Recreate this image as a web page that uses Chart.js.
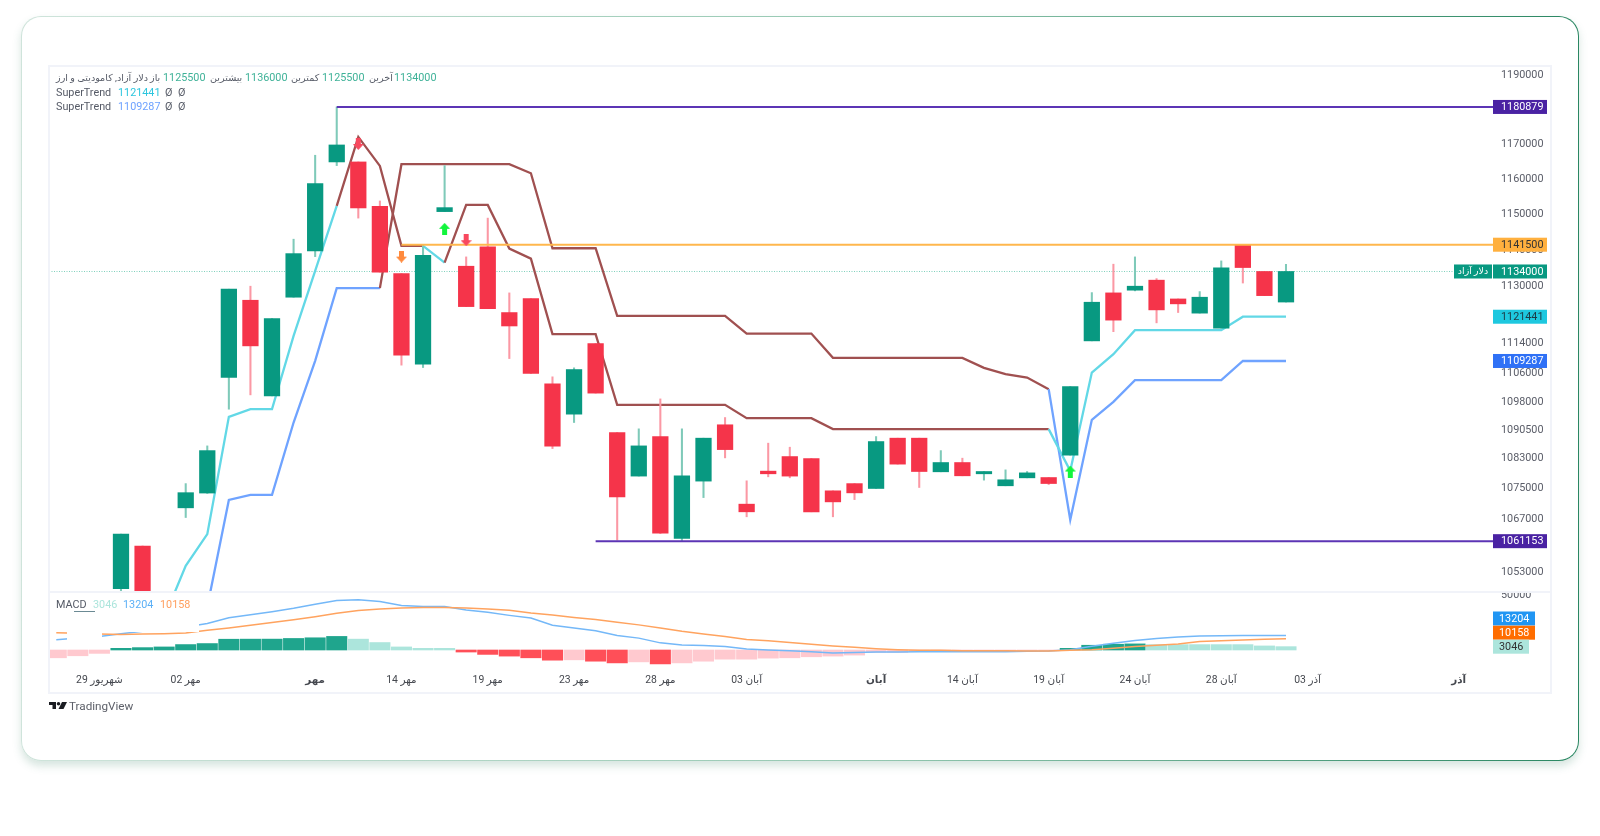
<!DOCTYPE html>
<html lang="fa">
<head>
<meta charset="utf-8">
<title>دلار آزاد</title>
<script src="https://cdn.jsdelivr.net/npm/chart.js@4/dist/chart.umd.min.js"></script>
<style>
  html, body { margin: 0; background: #fff; width: 1600px; height: 836px; overflow: hidden; }
  body { font-family: Roboto, "DejaVu Sans", sans-serif; font-size: 10.8px; color: #555a66; }
  .card {
    position: absolute; left: 21px; top: 16px; width: 1556px; height: 743px;
    border: 1.5px solid transparent; border-radius: 20px;
    background: linear-gradient(#fff, #fff) padding-box,
      linear-gradient(90deg, #cfe4db, #93c7b0 55%, #2a8762) border-box;
    box-shadow: 0 5px 9px rgba(70, 135, 110, 0.22);
  }
  .frame { position: absolute; left: 48px; top: 65px; width: 1500px; height: 625px; border: 2px solid #f1f3f9; pointer-events: none; }
  .divider { position: absolute; left: 49px; top: 591px; width: 1501px; height: 2px; background: #f1f3f9; }
  canvas { position: absolute; left: 49px; }
  #priceChart { top: 67px; }
  #macdChart { top: 593px; }
  .mask { position: absolute; background: #fff; }
  .underline { position: absolute; left: 74px; top: 611px; width: 21px; height: 1px; background: #6b8a94; }
  .row { position: absolute; left: 56px; height: 14px; line-height: 14px; white-space: nowrap; }
  .row span { position: absolute; top: 0; }
  .fa { font-size: 9.6px; }
  .num { color: #3fb298; }
  .brand { position: absolute; left: 49px; top: 699px; height: 14px; display: flex; align-items: center; font-size: 11.7px; color: #5d6069; }
  .brand svg { margin-right: 2px; }
</style>
</head>
<body>
<div class="card"></div>
<canvas id="priceChart" width="1501" height="526"></canvas>
<canvas id="macdChart" width="1501" height="99"></canvas>
<div class="mask" style="left:67px;top:630px;width:35px;height:14px"></div>
<div class="mask" style="left:102px;top:596px;width:97px;height:36px"></div>
<div class="divider"></div>
<div class="frame"></div>

<div class="row" style="top:71px">
  <span class="fa" style="left:0">دلار آزاد, کامودیتی و ارز</span>
  <span class="fa" style="left:94px">باز</span>
  <span class="num" style="left:107px">1125500</span>
  <span class="fa" style="left:154px">بیشترین</span>
  <span class="num" style="left:189px">1136000</span>
  <span class="fa" style="left:235px">کمترین</span>
  <span class="num" style="left:266px">1125500</span>
  <span class="fa" style="left:313px">آخرین</span>
  <span class="num" style="left:338px">1134000</span>
</div>
<div class="row" style="top:86px">
  <span style="left:0">SuperTrend</span>
  <span style="left:62px;color:#2cc6de">1121441</span>
  <span style="left:109px">Ø</span><span style="left:122px">Ø</span>
</div>
<div class="row" style="top:100px">
  <span style="left:0">SuperTrend</span>
  <span style="left:62px;color:#6ea2ff">1109287</span>
  <span style="left:109px">Ø</span><span style="left:122px">Ø</span>
</div>
<div class="row" style="top:598px">
  <span style="left:0">MACD</span>
  <span style="left:37px;color:#ace5dc">3046</span>
  <span style="left:67px;color:#5cb0f6">13204</span>
  <span style="left:104px;color:#ff9f5f">10158</span>
</div>
<div class="underline"></div>
<div class="brand">
  <svg width="18" height="9" viewBox="0 0 36 18"><path fill="#1a1c22" d="M0 0h14v14H7V6H0z"/><circle cx="19" cy="3.5" r="3.5" fill="#1a1c22"/><path fill="#1a1c22" d="M26 0h10l-7 14H19z"/></svg>
  <span>TradingView</span>
</div>

<script>
// candle position on the axis, 0 is the first visible candle
const opens = [1048800, 1059900, 1042000, 1069900, 1073800, 1104780, 1126000, 1099800, 1126840, 1139750, 1165000,
  1165000, 1152360, 1133400, 1108420, 1150840, 1135470, 1140880, 1122590, 1126450, 1103060, 1094860, 1114050, 1089920,
  1078290, 1088840, 1061850, 1076960, 1092000, 1070870, 1079610, 1083490, 1082960, 1074390, 1076300, 1075010, 1088410,
  1088410, 1079430, 1081900, 1078900, 1075720, 1077830, 1077910, 1083860, 1114790, 1128040, 1128790, 1131580, 1126360,
  1122430, 1118300, 1141500, 1134000, 1125500];
const highs = [1063000, 1059900, 1048000, 1076300, 1086340, 1129070, 1129900, 1120940, 1143050, 1166920, 1180879,
  1165000, 1153860, 1133400, 1141360, 1163950, 1138080, 1149000, 1128040, 1126450, 1104970, 1107420, 1114050, 1089920,
  1090910, 1098980, 1090910, 1088410, 1093950, 1077040, 1087070, 1085990, 1082960, 1074390, 1076300, 1088840, 1088410,
  1088410, 1085080, 1083060, 1079510, 1079950, 1079510, 1077910, 1102330, 1128120, 1136040, 1138080, 1132020, 1126360,
  1128400, 1136960, 1141500, 1134000, 1136000];
const lows = [1048300, 1040000, 1040000, 1067350, 1073700, 1096200, 1100070, 1099800, 1126840, 1138160, 1163950,
  1149000, 1133810, 1108150, 1107500, 1150840, 1124240, 1123690, 1109950, 1105870, 1085620, 1092610, 1100540, 1061420,
  1078290, 1063150, 1061153, 1072600, 1083140, 1067540, 1078100, 1077840, 1068850, 1067540, 1072070, 1075010, 1081470,
  1075270, 1079430, 1078370, 1077220, 1075720, 1077830, 1076050, 1083860, 1114790, 1117320, 1128600, 1119750, 1122600,
  1122430, 1118300, 1130780, 1127280, 1125500];
const closes = [1063000, 1041000, 1045000, 1073900, 1085080, 1129070, 1113420, 1120940, 1139000, 1158800, 1169880,
  1151880, 1133810, 1110870, 1138550, 1151970, 1124240, 1123690, 1118890, 1105870, 1086270, 1106950, 1100540, 1072790,
  1086340, 1063260, 1078370, 1088410, 1085350, 1068850, 1078900, 1078290, 1068850, 1071470, 1073850, 1087500, 1081470,
  1079510, 1081900, 1078370, 1079510, 1077310, 1079150, 1076320, 1102330, 1125450, 1120500, 1129900, 1123330, 1125000,
  1126840, 1135010, 1135100, 1127280, 1134000];

const superTrendFast = [null, null, 1041300, 1054740, 1063000, 1094140, 1096210, 1096210, 1116170, 1134170, 1152450,
  1172200, 1163860, 1141160, 1141160, 1136490, 1152730, 1152730, 1140400, 1137600, 1116640, 1116640, 1116640, 1097360,
  1097360, 1097360, 1097360, 1097360, 1097360, 1093790, 1093790, 1093790, 1093790, 1090830, 1090830, 1090830, 1090830,
  1090830, 1090830, 1090830, 1090830, 1090830, 1090830, 1090830, 1079690, 1106140, 1111140, 1117740, 1117740, 1117740,
  1117740, 1117740, 1121441, 1121441, 1121441];
const superTrendSlow = [null, null, null, null, 1044100, 1071990, 1073320, 1073320, 1092610, 1109320, 1129350,
  1129350, 1129350, 1164350, 1164350, 1164350, 1164350, 1164350, 1164350, 1161750, 1140510, 1140510, 1140510, 1121680,
  1121680, 1121680, 1121680, 1121680, 1121680, 1116800, 1116800, 1116800, 1116800, 1110140, 1110140, 1110140, 1110140,
  1110140, 1110140, 1110140, 1107420, 1105710, 1104780, 1101620, 1066750, 1093330, 1098170, 1104070, 1104070, 1104070,
  1104070, 1104070, 1109287, 1109287, 1109287];
const fastDownRanges = [[10, 14], [15, 43]];
const slowDownRanges = [[12, 43]];

const upArrowIdx = [15, 44];
const upArrowPrices = [1145960, 1079510];
const downArrowIdx = [11, 16, 13];
const downArrowPrices = [1170170, 1142760, 1138160];

const levelPrices = [1180879, 1061153, 1141500];
const levelStarts = [10, 22, 13];
const lastPrice = 1134000;

const priceTicks = [1190000, 1170000, 1160000, 1150000, 1140000, 1130000, 1114000, 1106000, 1098000, 1090500, 1083000,
  1075000, 1067000, 1060000, 1053000];
const macdTicks = [50000];

// MACD series start three candles before the first candle
const macdStart = -3;
const macdLine = [9260, 10800, 12340, 14810, 16970, 18520, 20980, 24070, 29320, 32090, 34870, 37960, 41660, 45060,
  45670, 44130, 40430, 39500, 39500, 36410, 34250, 31480, 29010, 22530, 20060, 17590, 13270, 10800, 6480, 4630, 4010,
  3090, 930, 0, -620, -1540, -2780, -2160, -1850, -1850, -1540, -1540, -1540, -1540, -1540, -1230, -930, 310, 3400,
  6170, 8640, 10490, 11730, 12650, 12960, 13120, 13200, 13204];
const signalLine = [15740, 15120, 14500, 14200, 14500, 14810, 15430, 17900, 20060, 22530, 25000, 27470, 30240, 33330,
  35800, 37340, 38270, 38580, 38580, 38270, 37340, 36110, 33640, 31790, 29630, 27770, 25300, 22840, 20060, 16970,
  14500, 12340, 9570, 8330, 6790, 5250, 3700, 2470, 1230, 310, -310, -310, -620, -620, -620, -930, -930, -310, 310,
  1540, 3090, 4320, 5550, 7710, 8500, 9100, 9700, 10158];
const macdHist = [-7100, -5250, -3090, 1540, 2160, 2780, 4940, 5860, 9800, 9880, 9900, 10490, 11110, 12340, 9880, 6790,
  2780, 1540, 1540, -1850, -4010, -5550, -7100, -9260, -8950, -10180, -11730, -10800, -12650, -11730, -10180, -8330,
  -8330, -7400, -7100, -6170, -5550, -4630, -2160, -2160, -1500, -1200, -1000, -800, -600, -400, -300, 1540, 4320,
  5250, 5550, 4900, 4900, 4900, 4900, 4900, 3700, 3046];

const dateTickIdx = [-1, 3, 9, 13, 17, 21, 25, 29, 35, 39, 43, 47, 51, 55, 62];
const dateTickLabels = ["شهریور 29", "مهر 02", "مهر", "مهر 14", "مهر 19", "مهر 23", "مهر 28", "آبان 03", "آبان",
  "آبان 14", "آبان 19", "آبان 24", "آبان 28", "آذر 03", "آذر"];
const monthLabels = ["مهر", "آبان", "آذر"];

const GREEN = "#089981", RED = "#f5344a";
const X_MIN = -3.337, X_MAX = 63.595;
const AXIS_WIDTH = 57;
const FONT = "Roboto, 'DejaVu Sans', sans-serif";
const idx = closes.map((_, i) => i);

function inRanges(i, ranges) {
  return ranges.some(([a, b]) => i >= a && i < b);
}

function trendSegment(upColor, ranges) {
  return { borderColor: (ctx) => (inRanges(ctx.p0.parsed.x, ranges) ? "#a05050" : upColor) };
}

function histColor(v, i) {
  const prev = i > 0 ? macdHist[i - 1] : v;
  if (v >= 0) return v > prev ? "#1fa58d" : "#ace5dc";
  return v < prev ? "#ff4f58" : "#ffc9cf";
}

function arrowIcon(color, down) {
  const c = document.createElement("canvas");
  c.width = 11;
  c.height = 12;
  const g = c.getContext("2d");
  if (down) { g.translate(0, 12); g.scale(1, -1); }
  g.fillStyle = color;
  g.beginPath();
  g.moveTo(5.5, 0);
  g.lineTo(11, 6);
  g.lineTo(8, 6);
  g.lineTo(8, 12);
  g.lineTo(3, 12);
  g.lineTo(3, 6);
  g.lineTo(0, 6);
  g.closePath();
  g.fill();
  return c;
}

function drawTag(g, x, y, w, text, bg, fg) {
  g.fillStyle = bg;
  g.fillRect(x, y - 7, w, 14);
  g.fillStyle = fg;
  g.font = "10.8px " + FONT;
  g.textBaseline = "middle";
  g.textAlign = "left";
  g.fillText(text, x + 8 - (w < 54 ? 2 : 0), y + 0.5);
}

const priceTagsPlugin = {
  id: "priceTags",
  afterDraw(chart) {
    const g = chart.ctx;
    const y = chart.scales.y;
    const x = chart.chartArea.right;
    g.save();
    drawTag(g, x, y.getPixelForValue(levelPrices[0]), 54, String(levelPrices[0]), "#4a22a3", "#fff");
    drawTag(g, x, y.getPixelForValue(levelPrices[1]), 54, String(levelPrices[1]), "#4a22a3", "#fff");
    drawTag(g, x, y.getPixelForValue(levelPrices[2]), 54, String(levelPrices[2]), "#ffb03e", "#333");
    drawTag(g, x, y.getPixelForValue(superTrendFast[54]), 54, String(superTrendFast[54]), "#1ec8df", "#1d3a44");
    drawTag(g, x, y.getPixelForValue(superTrendSlow[54]), 54, String(superTrendSlow[54]), "#2f71f6", "#fff");
    const py = y.getPixelForValue(lastPrice);
    drawTag(g, x, py, 54, String(lastPrice), GREEN, "#fff");
    g.fillStyle = GREEN;
    g.fillRect(x - 39, py - 7, 38, 14);
    g.fillStyle = "#fff";
    g.font = "9.4px " + FONT;
    g.textAlign = "center";
    g.fillText("دلار آزاد", x - 20, py);
    g.restore();
  },
};

const macdTagsPlugin = {
  id: "macdTags",
  afterDraw(chart) {
    const g = chart.ctx;
    const x = chart.chartArea.right;
    const top = chart.chartArea.top;
    g.save();
    drawTag(g, x, top + 25.5, 42, String(macdLine[macdLine.length - 1]), "#2196f3", "#fff");
    drawTag(g, x, top + 39.7, 42, String(signalLine[signalLine.length - 1]), "#ff6d00", "#fff");
    drawTag(g, x, top + 53.7, 36, String(macdHist[macdHist.length - 1]), "#ace5dc", "#333");
    g.restore();
  },
};

// the panes have to line up exactly, so no room is kept for tick labels
function noPadding(s) {
  s.paddingTop = 0;
  s.paddingBottom = 0;
  s.paddingLeft = 0;
  s.paddingRight = 0;
}

function rightAxis(extra) {
  return Object.assign({
    position: "right",
    grid: { display: false, drawTicks: false },
    border: { display: false },
    afterFit: (s) => { s.width = AXIS_WIDTH; noPadding(s); },
  }, extra);
}

new Chart(document.getElementById("priceChart"), {
  type: "bar",
  data: {
    datasets: [
      {
        type: "scatter", order: -1,
        data: upArrowIdx.map((x, i) => ({ x, y: upArrowPrices[i] })),
        pointStyle: arrowIcon("#12f53c", false),
      },
      {
        type: "scatter", order: -1,
        data: downArrowIdx.map((x, i) => ({ x, y: downArrowPrices[i] })),
        pointStyle: [arrowIcon("#f8485e", true), arrowIcon("#f8485e", true), arrowIcon("#ff8a3d", true)],
      },
      ...levelPrices.map((p, i) => ({
        type: "line", order: 0,
        data: [{ x: levelStarts[i], y: p }, { x: X_MAX, y: p }],
        borderColor: i === 2 ? "#ffb74d" : "#5c35b5",
        borderWidth: 2, pointRadius: 0,
      })),
      {
        type: "bar", order: 1, grouped: false, barThickness: 15.6,
        data: idx.map((i) => ({ x: i, y: [opens[i], closes[i]] })),
        backgroundColor: idx.map((i) => (closes[i] >= opens[i] ? GREEN : RED)),
      },
      {
        type: "bar", order: 2, grouped: false, barThickness: 1.4,
        data: idx.map((i) => ({ x: i, y: [lows[i], highs[i]] })),
        backgroundColor: idx.map((i) => (closes[i] >= opens[i] ? "#7fcab9" : "#fb98a4")),
      },
      {
        type: "line", order: 3,
        data: idx.map((i) => ({ x: i, y: superTrendFast[i] })),
        borderColor: "#62d8e6", borderWidth: 2.3, pointRadius: 0,
        segment: trendSegment("#62d8e6", fastDownRanges),
      },
      {
        type: "line", order: 3,
        data: idx.map((i) => ({ x: i, y: superTrendSlow[i] })),
        borderColor: "#6fa3ff", borderWidth: 2.3, pointRadius: 0,
        segment: trendSegment("#6fa3ff", slowDownRanges),
      },
      {
        type: "line", order: 4,
        data: [{ x: X_MIN, y: lastPrice }, { x: 61.75, y: lastPrice }],
        borderColor: "#7fd0bd", borderWidth: 1, borderDash: [1, 1.5], pointRadius: 0,
      },
    ],
  },
  options: {
    responsive: false,
    animation: false,
    layout: { padding: 0, autoPadding: false },
    plugins: { legend: { display: false }, tooltip: { enabled: false } },
    scales: {
      x: { type: "linear", min: X_MIN, max: X_MAX, offset: false, display: false },
      y: rightAxis({
        type: "logarithmic", min: 1047700, max: 1192550,
        afterBuildTicks: (s) => { s.ticks = priceTicks.map((value) => ({ value })); },
        ticks: {
          color: "#5a5d68", padding: 8, autoSkip: false,
          font: { family: FONT, size: 10.8 },
          callback: (v) => String(v),
        },
      }),
    },
  },
  plugins: [priceTagsPlugin],
});

const macdIdx = macdHist.map((_, i) => i + macdStart);

new Chart(document.getElementById("macdChart"), {
  type: "bar",
  data: {
    datasets: [
      {
        type: "line", order: 0,
        data: macdIdx.map((x, i) => ({ x, y: signalLine[i] })),
        borderColor: "#ffa35f", borderWidth: 1.5, pointRadius: 0,
      },
      {
        type: "line", order: 1,
        data: macdIdx.map((x, i) => ({ x, y: macdLine[i] })),
        borderColor: "#74b8f8", borderWidth: 1.5, pointRadius: 0,
      },
      {
        type: "bar", order: 2, barThickness: 20.4,
        data: macdIdx.map((x, i) => ({ x, y: macdHist[i] })),
        backgroundColor: macdHist.map(histColor),
      },
    ],
  },
  options: {
    responsive: false,
    animation: false,
    layout: { padding: 0, autoPadding: false },
    plugins: { legend: { display: false }, tooltip: { enabled: false } },
    scales: {
      x: {
        type: "linear", min: X_MIN, max: X_MAX, offset: false,
        grid: { display: false, drawTicks: false },
        border: { display: false },
        afterBuildTicks: (s) => { s.ticks = dateTickIdx.map((value) => ({ value })); },
        afterFit: (s) => { s.height = 24; noPadding(s); },
        ticks: {
          color: "#45484f", padding: 6, autoSkip: false, maxRotation: 0,
          font: (ctx) => {
            const label = dateTickLabels[dateTickIdx.indexOf(ctx.tick && ctx.tick.value)];
            return { family: FONT, size: 10.4, weight: monthLabels.includes(label) ? "bold" : "normal" };
          },
          callback: (v) => dateTickLabels[dateTickIdx.indexOf(v)],
        },
      },
      y: rightAxis({
        type: "linear", min: -16364, max: 51818,
        afterBuildTicks: (s) => { s.ticks = macdTicks.map((value) => ({ value })); },
        ticks: {
          color: "#5a5d68", padding: 8,
          font: { family: FONT, size: 10.8 },
          callback: (v) => String(v),
        },
      }),
    },
  },
  plugins: [macdTagsPlugin],
});
</script>
</body>
</html>
